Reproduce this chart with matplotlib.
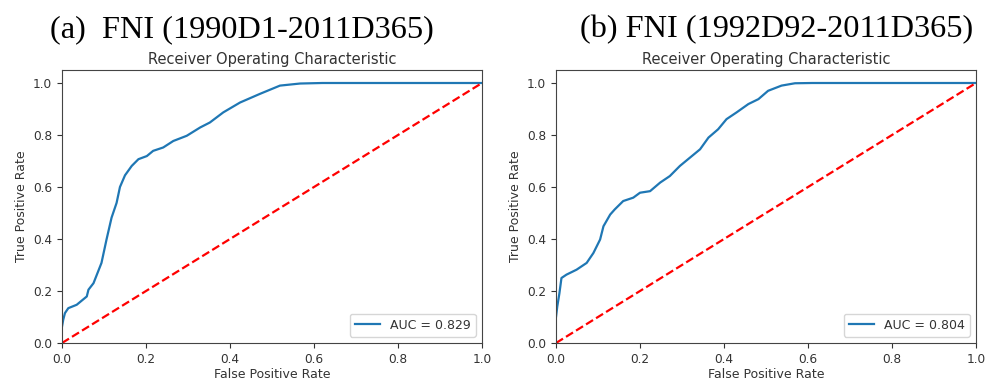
import numpy as np
import matplotlib.pyplot as plt

# ROC curves read for the two training periods
fpr_a = [0.0, 0.003, 0.007, 0.015, 0.035, 0.059, 0.063, 0.075, 0.094, 0.106, 0.118,
         0.130, 0.138, 0.150, 0.166, 0.182, 0.202, 0.217, 0.241, 0.265, 0.297,
         0.329, 0.352, 0.384, 0.424, 0.471, 0.519, 0.567, 0.62, 1.0]
tpr_a = [0.063, 0.09, 0.115, 0.134, 0.147, 0.179, 0.205, 0.23, 0.308, 0.398, 0.482,
         0.539, 0.600, 0.645, 0.681, 0.707, 0.719, 0.739, 0.752, 0.777, 0.797,
         0.829, 0.848, 0.887, 0.925, 0.958, 0.990, 0.998, 1.0, 1.0]
auc_a = 0.829

fpr_b = [0.0, 0.003, 0.008, 0.013, 0.025, 0.049, 0.073, 0.089, 0.105, 0.113, 0.129,
         0.140, 0.160, 0.184, 0.200, 0.224, 0.248, 0.271, 0.295, 0.319, 0.343,
         0.363, 0.386, 0.406, 0.430, 0.458, 0.482, 0.505, 0.537, 0.569, 0.61, 1.0]
tpr_b = [0.10, 0.14, 0.19, 0.25, 0.263, 0.282, 0.308, 0.346, 0.398, 0.449, 0.494,
         0.514, 0.546, 0.559, 0.578, 0.584, 0.617, 0.642, 0.681, 0.713, 0.745,
         0.790, 0.822, 0.861, 0.887, 0.919, 0.938, 0.970, 0.990, 0.999, 1.0, 1.0]
auc_b = 0.804

panel_titles = ['(a)  FNI (1990D1-2011D365)', '(b) FNI (1992D92-2011D365)']

txt = '#333333'
plt.rcParams['font.family'] = 'DejaVu Sans'
plt.rcParams['font.size'] = 9
plt.rcParams['xtick.labelsize'] = 8.7
plt.rcParams['ytick.labelsize'] = 8.7
plt.rcParams['text.color'] = txt
plt.rcParams['axes.labelcolor'] = txt
plt.rcParams['xtick.color'] = txt
plt.rcParams['ytick.color'] = txt
plt.rcParams['axes.edgecolor'] = '#444444'

fig = plt.figure(figsize=(9.87, 3.85), dpi=100)
ax1 = fig.add_axes([62/987, 42/385, 420/987, 273/385])
ax2 = fig.add_axes([556/987, 42/385, 420/987, 273/385])

for ax, fpr, tpr, auc in [(ax1, fpr_a, tpr_a, auc_a), (ax2, fpr_b, tpr_b, auc_b)]:
    ax.plot(fpr, tpr, color='#1f77b4', lw=1.6, label='AUC = %0.3f' % auc)
    ax.plot([0, 1], [0, 1], 'r--', lw=1.6)
    ax.set_xlim(0, 1)
    ax.set_ylim(0, 1.05)
    ax.set_xticks(np.arange(0, 1.01, 0.2))
    ax.set_yticks(np.arange(0, 1.01, 0.2))
    ax.set_title('Receiver Operating Characteristic', fontsize=10.5, pad=4)
    ax.set_xlabel('False Positive Rate', labelpad=2)
    ax.set_ylabel('True Positive Rate', labelpad=4)
    ax.legend(loc='lower right', fontsize=9)

fig.text(50/987, 1 - 37/385, panel_titles[0], family='Liberation Serif',
         fontsize=23.3, color='black', ha='left', va='baseline')
fig.text(580/987, 1 - 37/385, panel_titles[1], family='Liberation Serif',
         fontsize=23.3, color='black', ha='left', va='baseline')

fig.savefig('out.png', dpi=100)
